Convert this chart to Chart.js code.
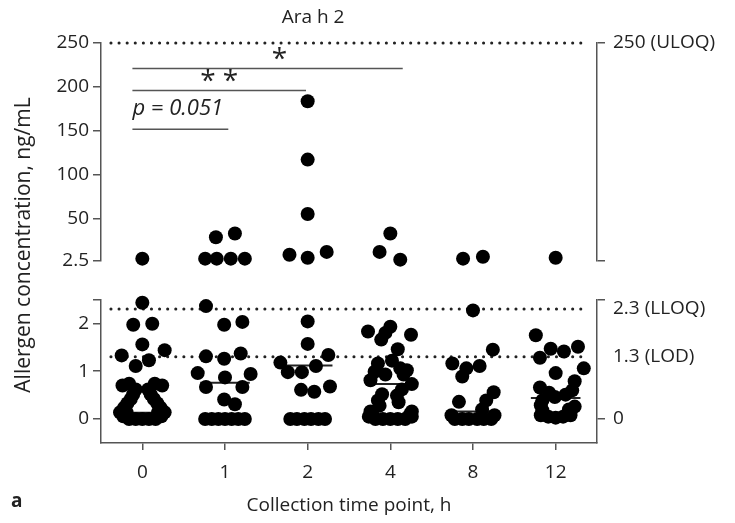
<!DOCTYPE html>
<html>
<head>
    <title>Ara h 2</title>
    <script src="https://cdn.jsdelivr.net/npm/chart.js"></script>
    <style>
        body {
            margin: 0;
            width: 735px;
            height: 523px;
            position: relative;
            background: #fff;
            font-family: 'Open Sans', sans-serif;
            color: #222;
            overflow: hidden;
        }
        .panel {
            position: absolute;
            left: 0;
            width: 735px;
        }
        #upperBox { top: 0; height: 280px; }
        #lowerBox { top: 280px; height: 243px; }
        .label {
            position: absolute;
            white-space: nowrap;
            font-size: 19px;
        }
        #title { left: 313px; top: 16px; transform: translate(-50%, -50%); }
        #yTitle { left: 22px; top: 245px; transform: translate(-50%, -50%) rotate(-90deg); font-size: 21px; }
        #panelTag { left: 11px; top: 487px; font-weight: bold; }
    </style>
</head>
<body>
    <div class="panel" id="upperBox"><canvas id="upperChart"></canvas></div>
    <div class="panel" id="lowerBox"><canvas id="lowerChart"></canvas></div>
    <div class="label" id="title">Ara h 2</div>
    <div class="label" id="yTitle">Allergen concentration, ng/mL</div>
    <div class="label" id="panelTag">a</div>

    <script>
        // time points (h)
        const timePoints = ['0', '1', '2', '4', '8', '12'];

        // upper panel, ng/mL (2.5 - 250)
        const upperValues = [
            [4.7],
            [4.7, 4.7, 4.7, 4.7, 29, 33.4],
            [183.7, 117.4, 55.5, 9.1, 5.8, 12.4],
            [33.4, 12.4, 3.6],
            [4.7, 6.9],
            [5.8]
        ];
        // swarm offsets, in category widths
        const upperOffsets = [
            [0],
            [-0.24, -0.10, 0.07, 0.24, -0.11, 0.12],
            [0, 0, 0, -0.22, 0, 0.23],
            [0, -0.13, 0.12],
            [-0.12, 0.12],
            [0]
        ];

        // lower panel, ng/mL (0 - 2.5)
        const lowerValues = [
            [2.43, 1.97, 1.99, 1.56, 1.33, 1.44, 1.23, 1.11, 0.74, 0.74, 0.70, 0.70,
             0.62, 0.62, 0.52, 0.52, 0.42, 0.42, 0.33, 0.33, 0.24, 0.24,
             0.14, 0.14, 0.14, 0.14, 0.06, 0.06, 0, 0, 0, 0, 0],
            [2.36, 1.97, 2.03, 1.31, 1.26, 1.37, 0.96, 0.87, 0.94, 0.67, 0.67, 0.41, 0.31,
             0, 0, 0, 0, 0, 0, 0],
            [2.04, 1.57, 1.34, 1.18, 0.98, 0.98, 1.11, 0.61, 0.57, 0.68, 0, 0, 0, 0, 0, 0],
            [1.83, 1.66, 1.80, 1.93, 1.76, 1.46, 1.16, 0.99, 0.93, 1.06, 0.93, 0.81, 0.73,
             0.52, 0.39, 0.49, 0.35, 0.16, 0.16, 0, 0, 0, 0, 0, 0.05, 0.05,
             1.22, 1.02, 0.62, 0.28, 0.10, 0.10],
            [2.27, 1.45, 1.16, 1.06, 1.11, 0.89, 0.56, 0.39, 0.36, 0.2, 0, 0, 0, 0, 0, 0, 0.08, 0.08],
            [1.75, 1.51, 1.47, 1.41, 1.28, 1.06, 0.96, 0.79, 0.66, 0.51, 0.46, 0.39, 0.29, 0.26,
             0.08, 0.05, 0.03, 0.05, 0.08, 0.55, 0.60, 0.20, 0.18]
        ];
        const lowerOffsets = [
            [0, -0.11, 0.12, 0, -0.25, 0.27, 0.08, -0.08, -0.16, 0.15, -0.24, 0.24,
             -0.08, 0.07, -0.11, 0.10, -0.14, 0.14, -0.18, 0.18, -0.22, 0.22,
             -0.27, -0.19, 0.19, 0.27, -0.23, 0.23, -0.16, -0.08, 0, 0.08, 0.16],
            [-0.23, -0.01, 0.21, -0.23, -0.01, 0.19, -0.33, 0, 0.31, -0.23, 0.21, -0.01, 0.12,
             -0.24, -0.16, -0.08, 0, 0.08, 0.16, 0.24],
            [0, 0, 0.25, -0.33, -0.24, -0.07, 0.10, -0.08, 0.08, 0.27, -0.21, -0.13, -0.04, 0.04, 0.13, 0.21],
            [-0.27, -0.11, -0.06, 0, 0.25, 0.09, -0.15, -0.19, -0.06, 0.12, 0.16, -0.24, 0.26,
             -0.10, -0.15, 0.08, 0.10, -0.24, 0.26, -0.18, -0.09, 0, 0.09, 0.18, -0.26, 0.26,
             0.02, 0.20, 0.14, -0.13, -0.22, 0.24],
            [0, 0.24, -0.25, -0.08, 0.08, -0.13, 0.25, 0.16, -0.17, 0.11, -0.22, -0.13, -0.05, 0.05, 0.13, 0.22, -0.26, 0.26],
            [-0.24, 0.27, -0.06, 0.10, -0.19, 0.34, 0, 0.23, -0.19, 0.12, -0.01, -0.16, -0.18, 0.23,
             -0.18, -0.09, 0, 0.09, 0.18, -0.08, 0.20, 0.16, -0.16]
        ];

        const medians = [0.13, 0.76, 1.12, 0.73, 0.16, 0.44];

        // reference levels
        const uloq = 250, lloq = 2.3, lod = 1.3;

        const upperTicks = [2.5, 50, 100, 150, 200, 250];
        const lowerTicks = [0, 1, 2, 2.5];
        const lowerRightTicks = [0, 1.3, 2.3, 2.5];
        const lowerRightLabels = ['0', '1.3 (LOD)', '2.3 (LLOQ)', ''];

        // significance brackets
        const sigLabels = ['*', '**', 'p = 0.051'];
        const sigFrom = [-0.12, -0.12, -0.12];
        const sigTo = [3.15, 1.98, 1.04];
        const sigLevel = [221, 196, 152];
        const sigTextX = [1.70, 0.93, -0.12];

        const axisColor = '#555';
        const textColor = '#222';
        const fontFamily = "'Open Sans', sans-serif";
        const MEDIAN_HALF = 0.3;
        const REF_SPAN = [-0.38, 5.38];

        function swarm(values, offsets) {
            const pts = [];
            values.forEach((grp, i) => grp.forEach((v, j) => pts.push({ x: i + offsets[i][j], y: v })));
            return pts;
        }

        function pointSet(data) {
            return {
                data: data,
                backgroundColor: '#000',
                borderWidth: 0,
                pointRadius: 7,
                showLine: false,
                clip: false
            };
        }

        function lineSet(data, opts) {
            return Object.assign({
                data: data,
                showLine: true,
                pointRadius: 0,
                borderColor: '#555',
                borderWidth: 1.5,
                fill: false,
                clip: false
            }, opts || {});
        }

        function dotted(level) {
            return lineSet([{ x: REF_SPAN[0], y: level }, { x: REF_SPAN[1], y: level }], {
                borderColor: '#222',
                borderWidth: 3,
                borderDash: [0.1, 8],
                borderCapStyle: 'round'
            });
        }

        function fixedTicks(list) {
            return s => { s.ticks = list.map(v => ({ value: v })); };
        }

        function yAxis(pos, min, max, ticks, cb, width, size) {
            return {
                type: 'linear',
                position: pos,
                min: min,
                max: max,
                afterBuildTicks: fixedTicks(ticks),
                afterFit: s => { s.width = width; },
                ticks: {
                    callback: cb,
                    color: textColor,
                    font: { family: fontFamily, size: size },
                    padding: pos === 'left' ? 4 : 8
                },
                grid: { drawOnChartArea: false, drawTicks: true, tickLength: 8, color: axisColor, lineWidth: 1.5 },
                border: { color: axisColor, width: 1.5 }
            };
        }

        // text of the significance brackets
        const sigText = {
            id: 'sigText',
            afterDatasetsDraw(chart) {
                const ctx = chart.ctx;
                const xs = chart.scales.x, ys = chart.scales.y;
                ctx.save();
                ctx.fillStyle = textColor;
                ctx.textBaseline = 'alphabetic';
                sigLabels.forEach((txt, i) => {
                    const lineY = ys.getPixelForValue(sigLevel[i]);
                    const px = xs.getPixelForValue(sigTextX[i]);
                    if (txt.startsWith('p')) {
                        ctx.font = 'italic 22px ' + fontFamily;
                        ctx.textAlign = 'left';
                        ctx.fillText(txt, px, lineY - 14);
                    } else {
                        ctx.font = '28px ' + fontFamily;
                        ctx.textAlign = 'center';
                        if ('letterSpacing' in ctx) ctx.letterSpacing = '7px';
                        ctx.fillText(txt, px + (txt.length > 1 ? 3.5 : 0), lineY);
                        if ('letterSpacing' in ctx) ctx.letterSpacing = '0px';
                    }
                });
                ctx.restore();
            }
        };

        const upperDatasets = [pointSet(swarm(upperValues, upperOffsets))];
        sigLabels.forEach((_, i) => {
            upperDatasets.push(lineSet([{ x: sigFrom[i], y: sigLevel[i] }, { x: sigTo[i], y: sigLevel[i] }]));
        });
        upperDatasets.push(dotted(uloq));

        new Chart(document.getElementById('upperChart'), {
            type: 'scatter',
            data: { datasets: upperDatasets },
            options: {
                responsive: true,
                maintainAspectRatio: false,
                animation: false,
                layout: { padding: { top: 43, bottom: 13, left: 0, right: 0 }, autoPadding: false },
                plugins: { legend: { display: false }, tooltip: { enabled: false } },
                scales: {
                    x: { type: 'linear', min: -0.5, max: 5.5, display: false },
                    y: yAxis('left', 2.5, 250, upperTicks, v => String(v), 101, 19),
                    y2: yAxis('right', 2.5, 250, [2.5, 250], v => v === 250 ? '250 (ULOQ)' : '', 138, 19)
                }
            },
            plugins: [sigText]
        });

        const lowerDatasets = [pointSet(swarm(lowerValues, lowerOffsets))];
        medians.forEach((m, i) => {
            lowerDatasets.push(lineSet([{ x: i - MEDIAN_HALF, y: m }, { x: i + MEDIAN_HALF, y: m }], {
                borderColor: '#222',
                borderWidth: 2
            }));
        });
        lowerDatasets.push(dotted(lloq));
        lowerDatasets.push(dotted(lod));

        const lowerRight = yAxis('right', -0.5, 2.5, lowerRightTicks,
            (v, i) => lowerRightLabels[i], 138, 19);
        lowerRight.grid.color = c => (c.tick && (c.tick.value === lod || c.tick.value === lloq)) ? 'rgba(0,0,0,0)' : axisColor;

        new Chart(document.getElementById('lowerChart'), {
            type: 'scatter',
            data: { datasets: lowerDatasets },
            options: {
                responsive: true,
                maintainAspectRatio: false,
                animation: false,
                layout: { padding: { top: 12, bottom: 0, left: 0, right: 0 }, autoPadding: false },
                plugins: { legend: { display: false }, tooltip: { enabled: false } },
                scales: {
                    x: {
                        type: 'linear',
                        min: -0.5,
                        max: 5.5,
                        afterBuildTicks: fixedTicks([0, 1, 2, 3, 4, 5]),
                        afterFit: s => { s.height = 80; },
                        ticks: {
                            callback: (v, i) => timePoints[i],
                            color: textColor,
                            font: { family: fontFamily, size: 19 },
                            padding: 11
                        },
                        grid: { drawOnChartArea: false, drawTicks: true, tickLength: 7, color: axisColor, lineWidth: 1.5 },
                        border: { color: axisColor, width: 1.5 },
                        title: {
                            display: true,
                            text: 'Collection time point, h',
                            color: textColor,
                            font: { family: fontFamily, size: 19 },
                            padding: { top: 0, bottom: 6 }
                        }
                    },
                    y: yAxis('left', -0.5, 2.5, lowerTicks, v => v === 2.5 ? '' : String(v), 101, 19),
                    y2: lowerRight
                }
            }
        });
    </script>
</body>
</html>
